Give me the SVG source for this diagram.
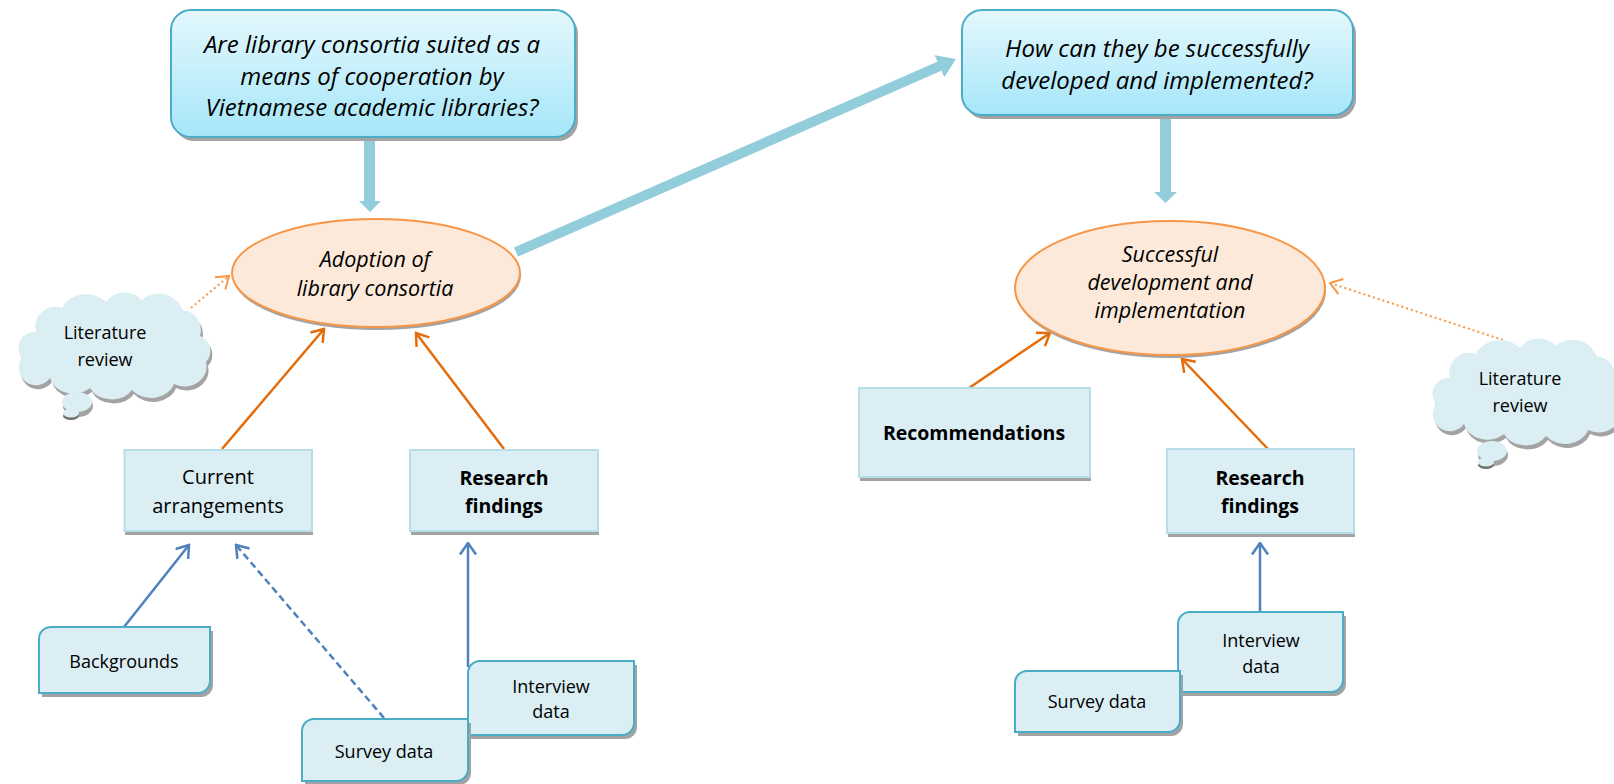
<svg xmlns="http://www.w3.org/2000/svg" width="1614" height="784" viewBox="0 0 1614 784">
<style>
.q{fill:url(#qg);stroke:#4bacc6;stroke-width:2}
.shd{fill:#a3a3a3}
.ell{fill:#fde9d9;stroke:#f79646;stroke-width:2}
.box{fill:#daeef3;stroke:#b7dde8;stroke-width:2}
.snip{fill:#daeef3;stroke:#4bacc6;stroke-width:2}
.cloud{fill:#daeef3}
.t{font-family:"Open Sans","Liberation Sans",sans-serif;fill:#000;text-anchor:middle}
.qi{font-size:24px;font-style:italic}
.ei{font-size:21.5px;font-style:italic}
.b{font-size:19.5px;font-weight:bold}
.n{font-size:20px}
.s{font-size:18px}
.oa{stroke:#e46c0a;stroke-width:2.5;fill:none;marker-end:url(#ao)}
.od{stroke:#f79646;stroke-width:2;fill:none;stroke-dasharray:2 3;marker-end:url(#ao2)}
.ba{stroke:#4f81bd;stroke-width:2.5;fill:none;marker-end:url(#ab)}
.bd{stroke:#4f81bd;stroke-width:2.5;fill:none;stroke-dasharray:7 4;marker-end:url(#ab)}
.thick{fill:#92cddc}
</style>
<defs>
<linearGradient id="qg" x1="0" y1="0" x2="0" y2="1">
<stop offset="0" stop-color="#e4f8fd"/>
<stop offset="1" stop-color="#a6e6f9"/>
</linearGradient>
<marker id="ao" markerUnits="userSpaceOnUse" viewBox="0 0 14 18" refX="12.5" refY="9" markerWidth="14" markerHeight="18" orient="auto">
<path d="M1,1 L12.5,9 L1,17" fill="none" stroke="#e46c0a" stroke-width="2.5"/>
</marker>
<marker id="ao2" markerUnits="userSpaceOnUse" viewBox="0 0 14 18" refX="12.5" refY="9" markerWidth="14" markerHeight="18" orient="auto">
<path d="M1,1 L12.5,9 L1,17" fill="none" stroke="#f79646" stroke-width="2"/>
</marker>
<marker id="ab" markerUnits="userSpaceOnUse" viewBox="0 0 14 18" refX="12.5" refY="9" markerWidth="14" markerHeight="18" orient="auto">
<path d="M1,1 L12.5,9 L1,17" fill="none" stroke="#4f81bd" stroke-width="2.5"/>
</marker>
<path id="cl" d="M22,38 A20,20 0 0 1 48,14 A26,22 0 0 1 92,8 A22,20 0 0 1 128,6 A24,22 0 0 1 168,16 A20,20 0 0 1 186,42 A16,16 0 0 1 192,68 A22,20 0 0 1 160,90 A24,20 0 0 1 118,96 A24,20 0 0 1 76,94 A24,20 0 0 1 36,84 A16,16 0 0 1 8,64 A16,16 0 0 1 22,38 Z"/>
</defs>

<g id="connectors">
<rect class="thick" x="364" y="138" width="11" height="64"/>
<polygon class="thick" points="359,201 381,201 370,212"/>
<rect class="thick" x="1160" y="117" width="11" height="76"/>
<polygon class="thick" points="1154,192 1177,192 1165.5,203"/>
<line x1="516" y1="252" x2="941" y2="65.5" stroke="#92cddc" stroke-width="10"/>
<polygon class="thick" points="956,59 944.3,77.2 934.7,55.2"/>
<line class="oa" x1="222" y1="449" x2="324" y2="329"/>
<line class="oa" x1="504" y1="449" x2="416" y2="333"/>
<line class="od" x1="191" y1="308" x2="229" y2="276"/>
<line class="oa" x1="969" y1="388" x2="1050" y2="333"/>
<line class="oa" x1="1268" y1="449" x2="1182" y2="359"/>
<line class="od" x1="1503" y1="340" x2="1330" y2="283"/>
<line class="ba" x1="124" y1="627" x2="189" y2="545"/>
<line class="bd" x1="384" y1="718" x2="236" y2="545"/>
<line class="ba" x1="468" y1="667" x2="468" y2="543"/>
<line class="ba" x1="1260" y1="612" x2="1260" y2="543"/>
</g>

<g id="q1">
<rect class="shd" x="174" y="14" width="404" height="127" rx="20"/>
<rect class="q" x="171" y="10" width="404" height="127" rx="20"/>
<text class="t qi" x="372" y="53">Are library consortia suited as a</text>
<text class="t qi" x="372" y="85">means of cooperation by</text>
<text class="t qi" x="372" y="116">Vietnamese academic libraries?</text>
</g>

<g id="q2">
<rect class="shd" x="965" y="14" width="391" height="105" rx="20"/>
<rect class="q" x="962" y="10" width="391" height="105" rx="20"/>
<text class="t qi" x="1157" y="57">How can they be successfully</text>
<text class="t qi" x="1157" y="89">developed and implemented?</text>
</g>

<g id="e1">
<ellipse class="shd" cx="377" cy="276" rx="144" ry="54"/>
<ellipse class="ell" cx="376" cy="273" rx="144" ry="54"/>
<text class="t ei" x="375" y="267">Adoption of</text>
<text class="t ei" x="375" y="296">library consortia</text>
</g>

<g id="e2">
<ellipse class="shd" cx="1171" cy="291" rx="155" ry="67"/>
<ellipse class="ell" cx="1170" cy="288" rx="155" ry="67"/>
<text class="t ei" x="1170" y="262">Successful</text>
<text class="t ei" x="1170" y="290">development and</text>
<text class="t ei" x="1170" y="318">implementation</text>
</g>

<g id="cloud1">
<use href="#cl" class="shd" transform="translate(16,298)"/>
<use href="#cl" class="cloud" transform="translate(14,294)"/>
<ellipse class="shd" cx="78" cy="406" rx="15" ry="11"/>
<ellipse class="cloud" cx="77" cy="402" rx="15" ry="10"/>
<ellipse fill="#707070" cx="71" cy="416" rx="8" ry="4"/>
<ellipse class="cloud" cx="71" cy="413" rx="8" ry="4.5"/>
<text class="t s" x="105" y="339">Literature</text>
<text class="t s" x="105" y="366">review</text>
</g>

<g id="cloud2">
<use href="#cl" class="shd" transform="translate(1430,344)"/>
<use href="#cl" class="cloud" transform="translate(1428,340)"/>
<ellipse class="shd" cx="1493" cy="455" rx="15" ry="11"/>
<ellipse class="cloud" cx="1492" cy="451" rx="15" ry="10"/>
<ellipse fill="#707070" cx="1486" cy="465" rx="8" ry="4"/>
<ellipse class="cloud" cx="1486" cy="462" rx="8" ry="4.5"/>
<text class="t s" x="1520" y="385">Literature</text>
<text class="t s" x="1520" y="412">review</text>
</g>

<g id="current">
<rect class="shd" x="125" y="454" width="188" height="81"/>
<rect class="box" x="124.5" y="450" width="187.5" height="81"/>
<text class="t n" x="218" y="484">Current</text>
<text class="t n" x="218" y="513">arrangements</text>
</g>

<g id="research1">
<rect class="shd" x="411" y="454" width="188" height="81"/>
<rect class="box" x="410" y="450" width="188" height="81"/>
<text class="t b" x="504" y="485">Research</text>
<text class="t b" x="504" y="513">findings</text>
</g>

<g id="recommendations">
<rect class="shd" x="860" y="392" width="231" height="89"/>
<rect class="box" x="859" y="388" width="231" height="89"/>
<text class="t b" x="974" y="440">Recommendations</text>
</g>

<g id="research2">
<rect class="shd" x="1168" y="453" width="187" height="84"/>
<rect class="box" x="1167" y="449" width="187" height="84"/>
<text class="t b" x="1260" y="485">Research</text>
<text class="t b" x="1260" y="513">findings</text>
</g>

<g id="backgrounds">
<path class="shd" d="M54,631 H213 V685 A12,12 0 0 1 201,697 H42 V643 A12,12 0 0 1 54,631 Z"/>
<path class="snip" d="M51,627 H210 V681 A12,12 0 0 1 198,693 H39 V639 A12,12 0 0 1 51,627 Z"/>
<text class="t s" x="124" y="668">Backgrounds</text>
</g>

<g id="interview1">
<path class="shd" d="M483,665 H637 V727 A12,12 0 0 1 625,739 H471 V677 A12,12 0 0 1 483,665 Z"/>
<path class="snip" d="M480,661 H634 V723 A12,12 0 0 1 622,735 H468 V673 A12,12 0 0 1 480,661 Z"/>
<text class="t s" x="551" y="693">Interview</text>
<text class="t s" x="551" y="718">data</text>
</g>

<g id="survey1">
<path class="shd" d="M317,723 H471 V773 A12,12 0 0 1 459,785 H305 V735 A12,12 0 0 1 317,723 Z"/>
<path class="snip" d="M314,719 H468 V769 A12,12 0 0 1 456,781 H302 V731 A12,12 0 0 1 314,719 Z"/>
<text class="t s" x="384" y="758">Survey data</text>
</g>

<g id="interview2">
<path class="shd" d="M1193,616 H1346 V684 A12,12 0 0 1 1334,696 H1181 V628 A12,12 0 0 1 1193,616 Z"/>
<path class="snip" d="M1190,612 H1343 V680 A12,12 0 0 1 1331,692 H1178 V624 A12,12 0 0 1 1190,612 Z"/>
<text class="t s" x="1261" y="647">Interview</text>
<text class="t s" x="1261" y="673">data</text>
</g>

<g id="survey2">
<path class="shd" d="M1030,675 H1183 V724 A12,12 0 0 1 1171,736 H1018 V687 A12,12 0 0 1 1030,675 Z"/>
<path class="snip" d="M1027,671 H1180 V720 A12,12 0 0 1 1168,732 H1015 V683 A12,12 0 0 1 1027,671 Z"/>
<text class="t s" x="1097" y="708">Survey data</text>
</g>
</svg>
